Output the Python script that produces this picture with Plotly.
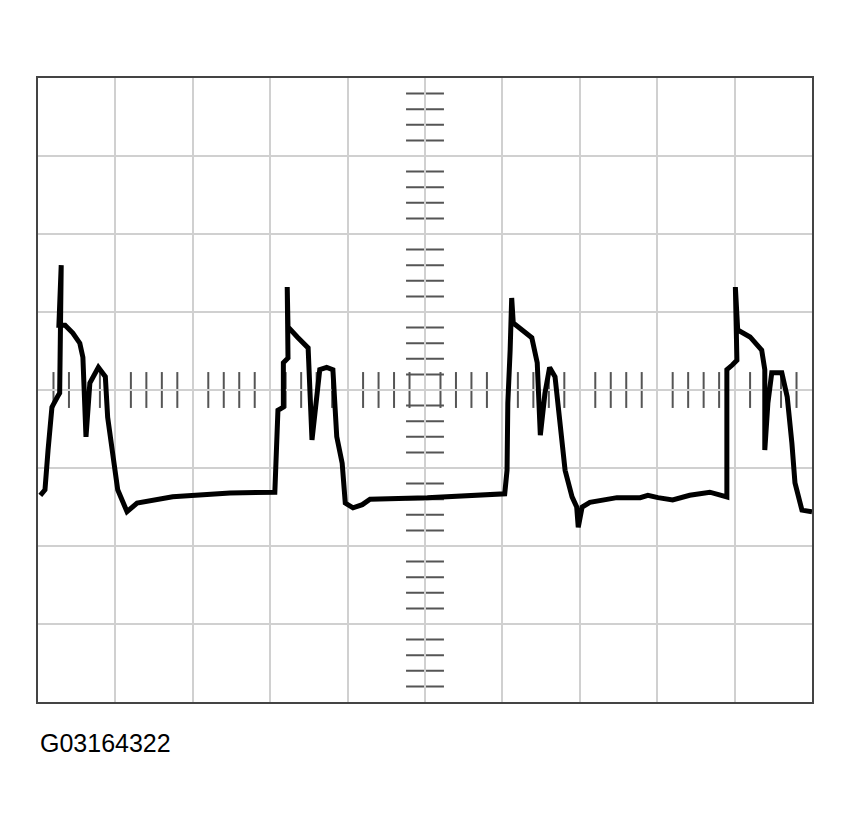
import plotly.graph_objects as go

# Waveform: time in horizontal divisions (0-10), voltage in vertical divisions (-4..4)
time_div = [0.03, 0.09, 0.13, 0.18, 0.25, 0.28, 0.30, 0.27, 0.35, 0.45, 0.54, 0.58, 0.62, 0.67, 0.78, 0.87,
            0.90, 0.97, 1.03, 1.15, 1.28, 1.74, 2.48, 3.06,
            3.10, 3.17, 3.17, 3.23, 3.22, 3.23, 3.35, 3.49, 3.54, 3.60, 3.64, 3.73, 3.81, 3.86, 3.93, 3.97,
            4.07, 4.19, 4.29, 5.03, 6.03,
            6.06, 6.07, 6.10, 6.12, 6.14, 6.25, 6.38, 6.45, 6.49, 6.55, 6.61, 6.68, 6.74, 6.81, 6.90, 6.96,
            6.98, 7.03, 7.13, 7.48, 7.78, 7.88, 8.01, 8.20, 8.42, 8.68, 8.90,
            8.90, 8.97, 9.03, 9.01, 9.04, 9.20, 9.35, 9.39, 9.39, 9.43, 9.48, 9.61, 9.68, 9.74, 9.78, 9.87, 10.0]
volt_div = [-1.35, -1.28, -0.77, -0.22, -0.09, -0.04, 1.60, 0.83, 0.83, 0.73, 0.60, 0.42, -0.60, 0.09, 0.29, 0.17,
            -0.35, -0.86, -1.28, -1.56, -1.45, -1.37, -1.32, -1.31,
            -0.26, -0.22, 0.35, 0.41, 1.32, 0.81, 0.68, 0.54, -0.64, -0.17, 0.26, 0.29, 0.26, -0.60, -0.94, -1.45,
            -1.51, -1.47, -1.40, -1.38, -1.33,
            -1.03, -0.17, 0.51, 1.18, 0.86, 0.77, 0.67, 0.35, -0.58, -0.04, 0.29, 0.17, -0.38, -1.03, -1.37, -1.50,
            -1.76, -1.50, -1.44, -1.38, -1.38, -1.35, -1.38, -1.41, -1.35, -1.31, -1.37,
            0.26, 0.32, 0.38, 1.32, 0.77, 0.68, 0.51, 0.26, -0.77, -0.17, 0.22, 0.22, -0.09, -0.68, -1.19, -1.54, -1.56]

x_divisions = 10
y_divisions = 8
label_text = "G03164322"

fig = go.Figure()
fig.add_trace(go.Scatter(x=time_div, y=volt_div, mode="lines",
                         line=dict(color="black", width=5), hoverinfo="skip", showlegend=False))

shapes = []
tick_color = "#555555"
# center crosshair
shapes.append(dict(type="line", xref="x", yref="y", x0=x_divisions / 2, x1=x_divisions / 2,
                   y0=-y_divisions / 2, y1=y_divisions / 2, line=dict(color="#999999", width=2), layer="below"))
shapes.append(dict(type="line", xref="x", yref="y", x0=0, x1=x_divisions, y0=0, y1=0,
                   line=dict(color="#999999", width=2), layer="below"))
# minor ticks on horizontal center line
for k in range(1, x_divisions * 5):
    if k % 5 == 0:
        continue
    xv = k * 0.2
    shapes.append(dict(type="line", xref="x", yref="y", x0=xv, x1=xv, y0=-0.23, y1=0.23,
                       line=dict(color=tick_color, width=2), layer="below"))
# minor ticks on vertical center line
for k in range(-y_divisions // 2 * 5 + 1, y_divisions // 2 * 5):
    if k % 5 == 0:
        continue
    yv = k * 0.2
    shapes.append(dict(type="line", xref="x", yref="y", x0=x_divisions / 2 - 0.245, x1=x_divisions / 2 + 0.245,
                       y0=yv, y1=yv, line=dict(color=tick_color, width=2), layer="below"))

fig.update_layout(
    width=852, height=826,
    margin=dict(l=30, r=48, t=70, b=132),
    paper_bgcolor="white", plot_bgcolor="white",
    shapes=shapes,
    xaxis=dict(range=[0, x_divisions], dtick=1, tick0=0, showgrid=True, gridcolor="#d0d0d0", gridwidth=2,
               zeroline=False, showticklabels=False, ticks="", showline=True, mirror=True,
               linecolor="#444444", linewidth=2, fixedrange=True),
    yaxis=dict(range=[-y_divisions / 2, y_divisions / 2], dtick=1, tick0=0, showgrid=True, gridcolor="#d0d0d0",
               gridwidth=2, zeroline=False, showticklabels=False, ticks="", showline=True, mirror=True,
               linecolor="#444444", linewidth=2, fixedrange=True),
    annotations=[dict(text=label_text, xref="paper", yref="paper", x=0, y=-0.0657, xanchor="left",
                      yanchor="middle", showarrow=False,
                      font=dict(family="Liberation Sans, Arial, sans-serif", size=25, color="black"))],
)

fig.write_html("out.html")
